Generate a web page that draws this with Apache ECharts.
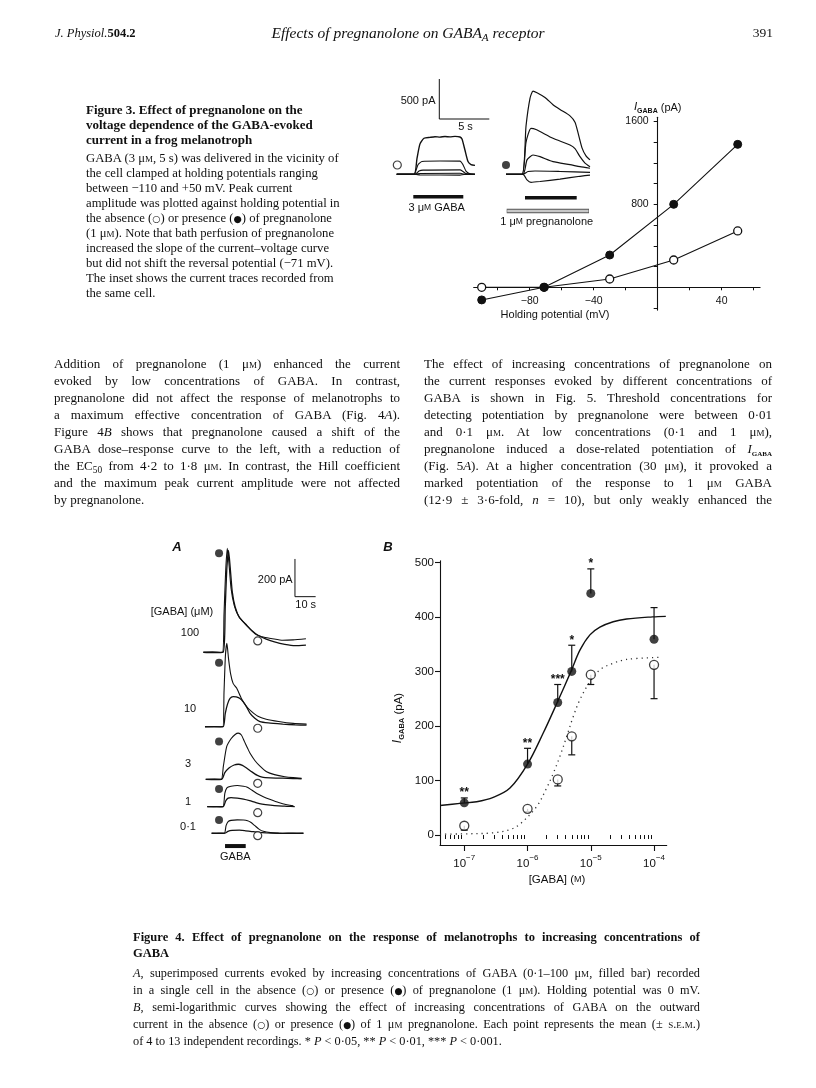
<!DOCTYPE html>
<html><head><meta charset="utf-8">
<script src="https://cdn.jsdelivr.net/npm/echarts@6/dist/echarts.min.js"></script>
<style>
html,body{margin:0;padding:0;background:#fff;}
#page{position:relative;width:816px;height:1088px;overflow:hidden;background:#fff;}
#chart{position:absolute;left:0;top:0;width:816px;height:1088px;}
.ln{position:absolute;white-space:nowrap;font-family:'Liberation Serif','Times New Roman',serif;color:#101010;}
.sc{font-variant:small-caps;}
.b{font-weight:bold;}
sub{font-size:0.72em;vertical-align:-0.28em;line-height:0;}
.sym{font-family:'DejaVu Sans',sans-serif;font-size:0.75em;}
</style></head>
<body><div id="page"><div id="chart"></div></div>
<script>
// ================= DATA =================
// Figure 3: current-voltage relation
var ivPotential = [-110, -71, -30, 10, 50];          // mV
var ivControl = [0, 0, 80, 263, 543];                // pA, open circles
var ivPregnanolone = [-122, 0, 311, 800, 1378];      // pA, filled circles
var ivXTicks = [-100, -80, -60, -40, -20, 20, 40, 60];
var ivXLabels = [-80, -40, 40];
var ivYTicks = [-200, 0, 200, 400, 600, 800, 1000, 1200, 1400, 1600];
var ivYLabels = [800, 1600];

// Figure 3 inset: current traces (time s, pA above baseline)
var insetControlTraces = [
  [[0.67,0],[2.4,0],[2.7,200],[3.0,380],[3.4,450],[4,462],[4.5,470],[5,465],[5.5,472],[6,468],[6.5,474],[7.0,466],[7.2,440],[7.5,300],[7.8,160],[8.1,122],[8.5,112]],
  [[0.67,0],[2.4,0],[2.8,120],[3.2,160],[5,166],[7.0,165],[7.3,120],[7.6,40],[8.0,5],[8.5,0]],
  [[0.67,0],[2.5,0],[2.9,40],[3.3,52],[7.0,55],[7.3,35],[7.6,8],[8.5,0]],
  [[0.67,0],[2.5,0],[3,10],[7,12],[7.4,2],[8.5,0]],
  [[0.67,0],[2.5,0],[3,-8],[7,-10],[7.4,-2],[8.5,0]]
];
var insetPregTraces = [
  [[11.6,0],[13.2,0],[13.6,600],[14.0,950],[14.3,1040],[14.7,1020],[15.5,960],[16.3,870],[17.0,810],[18.0,730],[18.5,650],[18.8,520],[19.2,330],[19.6,230],[20,180]],
  [[11.6,0],[13.2,0],[13.6,400],[14.1,575],[14.6,560],[16.3,450],[18,366],[18.5,320],[19.0,220],[19.5,140],[20,95]],
  [[11.6,0],[13.3,0],[13.7,180],[14.3,241],[15,220],[16.3,158],[18,120],[19,95],[20,75]],
  [[11.6,0],[13.3,0],[13.8,35],[14.5,41],[17,35],[20,25]],
  [[11.6,0],[13.3,0],[13.7,-70],[14.1,-100],[15,-90],[17,-60],[19,-25],[20,-10]]
];

// Figure 4A: superimposed currents (time s, pA above baseline)
var concLabels4A = ['100', '10', '3', '1', '0·1'];
var traces4APreg = [
  [[1.6,0],[6,2],[10.8,0],[11.6,200],[12.4,430],[13.2,552],[14.0,470],[15.0,340],[16.5,250],[18.5,195],[21,160],[24,125],[27,95],[31,80],[35,72],[40,64],[45,66],[51.2,72]],
  [[2.4,0],[7,1],[11.0,0],[11.6,180],[12.3,380],[13.0,442],[13.8,360],[14.8,280],[16,230],[17.7,205],[20,150],[22.6,106],[25,80],[28,55],[32,40],[38,28],[45,18],[51.5,14]],
  [[2.75,0],[7,1],[10.3,0],[11.3,70],[12.9,173],[15,215],[17,238],[18.5,245],[20,235],[21.5,200],[23,165],[24.2,138],[26.5,100],[29,70],[32.2,40],[36,25],[41,14],[45,9],[49.1,6]],
  [[3.5,0],[8,1],[11.1,0],[12.0,70],[13.0,100],[15,108],[18,112],[21,108],[22.6,104],[25,88],[27.5,70],[30.6,53],[34,38],[38,22],[42,10],[45.1,4]],
  [[5.6,0],[9,1],[11.8,0],[12.6,40],[13.6,62],[15,68],[18,71],[21,70],[23,66],[24.5,58],[26.5,40],[28.5,22],[30.6,10],[34,3],[40,0],[45,1],[50,0]]
];
var traces4AControl = [
  [[1.6,0],[6,-2],[11.2,0],[12.2,240],[13.0,450],[13.8,540],[14.6,450],[15.6,320],[17,240],[19,185],[22,150],[25,115],[28,90],[32,70],[36,55],[41,42],[46,35],[51.2,38]],
  [[2.4,0],[7,-1],[11.2,0],[12.2,70],[13.3,120],[14.5,150],[16,160],[17.5,158],[19.3,150],[21,130],[22.5,105],[24.2,71],[26.5,45],[29,27],[33,20],[40,14],[46,10],[51.5,8]],
  [[2.75,0],[7,-1],[10.5,0],[12,35],[14,60],[16.5,76],[18.5,80],[20.5,74],[22.5,60],[25,40],[27.5,22],[30,12],[34,8],[40,6],[45,4],[49.1,3]],
  [[3.5,0],[8,-1],[11.3,0],[12.4,30],[13.6,45],[15,48],[18,45],[21,40],[24,32],[27,22],[30,14],[34,8],[38,4],[42,2],[45.8,0]],
  [[5.6,0],[9,-1],[12,0],[13.5,10],[15.5,15],[19,16],[22,13],[25,9],[28,5],[32,2],[38,0],[44,-1],[50,0]]
];

// Figure 4B: dose-response
var gabaConc = [1e-7, 1e-6, 3e-6, 5e-6, 1e-5, 1e-4];      // M
var meanPreg = [59, 130, 243, 300, 443, 359];             // pA
var semPreg = [9, 29, 33, 48, 45, 58];
var meanControl = [17, 48, 102, 181, 294, 312];
var semControl = [8, 5, 12, 34, 18, 62];
var sigStars = ['**', '**', '***', '*', '*', ''];
var fitPregLogConc = [-7.384,-7.068,-6.804,-6.542,-6.278,-6.0,-5.752,-5.531,-5.31,-5.172,-5.014,-4.856,-4.646,-4.434,-4.024,-3.814];
var fitPregValue   = [54, 58, 61, 69, 86, 130, 187, 243, 301, 339, 367, 381, 391, 396, 400, 401];
var fitControlLogConc = [-7.384,-7.068,-6.542,-6.278,-6.12,-5.857,-5.699,-5.594,-5.489,-5.383,-5.278,-5.173,-5.014,-4.856,-4.646,-4.435,-3.88];
var fitControlValue   = [1.5, 2, 4, 10, 20, 52, 86, 113, 144, 180, 217, 248, 281, 303, 315, 322, 326];
var yTicks4B = [0, 100, 200, 300, 400, 500];
var xDecades4B = [-7, -6, -5, -4];

// ================= LAYOUT (not data) =================
var insetBaseline = 634;
var base4A = [1102, 707, 428, 283, 142];
var mark4APregOffset = [525, 339, 200, 94, 70];
var mark4ACtrlOffset = [60, -8, -21, -32, -13];
var SANS = "'Liberation Sans', Arial, sans-serif";
var INK = '#111111';

// ================= TEXT =================
var page = document.getElementById('page');
function addLine(html, x, yc, w, size, lh, justify, extra) {
  var d = document.createElement('div');
  d.className = 'ln';
  d.innerHTML = html;
  d.style.left = x + 'px';
  d.style.top = (yc - lh / 2) + 'px';
  d.style.fontSize = size + 'px';
  d.style.lineHeight = lh + 'px';
  if (extra) d.style.cssText += extra;
  page.appendChild(d);
  if (justify) {
    var nat = d.getBoundingClientRect().width;
    var n = (d.textContent.match(/ /g) || []).length;
    if (n) d.style.wordSpacing = ((w - nat) / n) + 'px';
  }
  return d;
}
var uM = 'μ<span class="sc">m</span>';
var OPEN = '(<span class="sym">○</span>)';
var FILL = '(<span class="sym">●</span>)';

// header
addLine('<i>J. Physiol.</i><b>504.2</b>', 55, 33, 0, 12.5, 16, false);
var t = addLine('<i>Effects of pregnanolone on GABA<sub>A</sub> receptor</i>', 0, 33, 0, 15.5, 18, false);
t.style.left = (408 - t.getBoundingClientRect().width / 2) + 'px';
var pn = addLine('391', 0, 33, 0, 13.5, 16, false);
pn.style.left = (773 - pn.getBoundingClientRect().width) + 'px';

// Figure 3 legend
var f3t = ['Figure 3. Effect of pregnanolone on the', 'voltage dependence of the GABA-evoked', 'current in a frog melanotroph'];
f3t.forEach(function (s, i) { addLine(s, 86, 109.3 + 15 * i, 0, 13, 15, false, 'font-weight:bold;'); });
var f3b = [
  'GABA (3 ' + uM + ', 5 s) was delivered in the vicinity of',
  'the cell clamped at holding potentials ranging',
  'between −110 and +50 mV. Peak current',
  'amplitude was plotted against holding potential in',
  'the absence ' + OPEN + ' or presence ' + FILL + ' of pregnanolone',
  '(1 ' + uM + '). Note that bath perfusion of pregnanolone',
  'increased the slope of the current–voltage curve',
  'but did not shift the reversal potential (−71 mV).',
  'The inset shows the current traces recorded from',
  'the same cell.'
];
f3b.forEach(function (s, i) { addLine(s, 86, 158.3 + 15 * i, 0, 12.7, 15, false); });

// body text, two columns
var colL = [
  'Addition of pregnanolone (1 ' + uM + ') enhanced the current',
  'evoked by low concentrations of GABA. In contrast,',
  'pregnanolone did not affect the response of melanotrophs to',
  'a maximum effective concentration of GABA (Fig. 4<i>A</i>).',
  'Figure 4<i>B</i> shows that pregnanolone caused a shift of the',
  'GABA dose–response curve to the left, with a reduction of',
  'the EC<sub>50</sub> from 4·2 to 1·8 ' + uM + '. In contrast, the Hill coefficient',
  'and the maximum peak current amplitude were not affected',
  'by pregnanolone.'
];
colL.forEach(function (s, i) { addLine(s, 54, 363.3 + 17.08 * i, 346, 13, 17, i < colL.length - 1); });
var colR = [
  'The effect of increasing concentrations of pregnanolone on',
  'the current responses evoked by different concentrations of',
  'GABA is shown in Fig. 5. Threshold concentrations for',
  'detecting potentiation by pregnanolone were between 0·01',
  'and 0·1 ' + uM + '. At low concentrations (0·1 and 1 ' + uM + '),',
  'pregnanolone induced a dose-related potentiation of <i>I</i><sub class="sc b">gaba</sub>',
  '(Fig. 5<i>A</i>). At a higher concentration (30 ' + uM + '), it provoked a',
  'marked potentiation of the response to 1 ' + uM + ' GABA',
  '(12·9 ± 3·6-fold, <i>n</i> = 10), but only weakly enhanced the'
];
colR.forEach(function (s, i) { addLine(s, 424, 363.3 + 17.08 * i, 348, 13, 17, true); });

// Figure 4 legend
addLine('Figure 4. Effect of pregnanolone on the response of melanotrophs to increasing concentrations of', 133, 937, 567, 12.5, 16, true, 'font-weight:bold;');
addLine('GABA', 133, 953, 0, 12.5, 16, false, 'font-weight:bold;');
var f4b = [
  '<i>A</i>, superimposed currents evoked by increasing concentrations of GABA (0·1–100 ' + uM + ', filled bar) recorded',
  'in a single cell in the absence ' + OPEN + ' or presence ' + FILL + ' of pregnanolone (1 ' + uM + '). Holding potential was 0 mV.',
  '<i>B</i>, semi-logarithmic curves showing the effect of increasing concentrations of GABA on the outward',
  'current in the absence ' + OPEN + ' or presence ' + FILL + ' of 1 ' + uM + ' pregnanolone. Each point represents the mean (± <span class="sc">s.e.m.</span>)',
  'of 4 to 13 independent recordings. * <i>P</i> &lt; 0·05, ** <i>P</i> &lt; 0·01, *** <i>P</i> &lt; 0·001.'
];
var f4y = [973, 990, 1007, 1024, 1041];
f4b.forEach(function (s, i) { addLine(s, 133, f4y[i], 567, 12.3, 16, i < f4b.length - 1); });

// ================= CHART =================
function pairs(xs, ys) { return xs.map(function (x, i) { return [x, ys[i]]; }); }
function shift(tr, b) { return tr.map(function (p) { return [p[0], p[1] + b]; }); }
var minorTicks4B = [];
for (var d = -8; d <= -4; d++) for (var k = 2; k <= 9; k++) {
  var v = d + Math.log10(k);
  if (v > -7.384 && v < -3.8) minorTicks4B.push(v);
}
var series = [];
// ---- Figure 3 IV plot (grid 0)
series.push({ type: 'line', xAxisIndex: 0, yAxisIndex: 0, data: pairs(ivPotential, ivControl), symbol: 'circle', symbolSize: 8,
  itemStyle: { color: '#fff', borderColor: INK, borderWidth: 1.3 }, lineStyle: { color: INK, width: 1.1 }, z: 4 });
series.push({ type: 'line', xAxisIndex: 0, yAxisIndex: 0, data: pairs(ivPotential, ivPregnanolone), symbol: 'circle', symbolSize: 8,
  itemStyle: { color: INK, borderColor: INK, borderWidth: 1 }, lineStyle: { color: INK, width: 1.1 }, z: 5 });
// ---- Figure 3 insets (grid 1)
function traceSeries(xi, data, w) {
  return { type: 'line', xAxisIndex: xi, yAxisIndex: xi, data: data, showSymbol: false, symbol: 'none', smooth: 0.2,
    lineStyle: { color: INK, width: w }, silent: true, z: 3 };
}
insetControlTraces.forEach(function (tr, i) { series.push(traceSeries(1, shift(tr, insetBaseline), i === 0 ? 1.4 : 1.1)); });
insetPregTraces.forEach(function (tr, i) { series.push(traceSeries(1, shift(tr, insetBaseline), 1.2)); });
series.push({ type: 'line', xAxisIndex: 1, yAxisIndex: 1, data: [[4.93, 1825], [4.93, 1325], [9.93, 1325]], symbol: 'none', lineStyle: { color: INK, width: 1 } });
series.push({ type: 'line', xAxisIndex: 1, yAxisIndex: 1, data: [[2.33, 354], [7.33, 354]], symbol: 'none', lineStyle: { color: INK, width: 3.5, cap: 'butt' } });
series.push({ type: 'line', xAxisIndex: 1, yAxisIndex: 1, data: [[13.5, 341], [18.67, 341]], symbol: 'none', lineStyle: { color: INK, width: 3.5, cap: 'butt' } });
series.push({ type: 'line', xAxisIndex: 1, yAxisIndex: 1, data: [[11.67, 175], [19.9, 175]], symbol: 'none', lineStyle: { color: '#555', width: 4.5, cap: 'butt' } });
series.push({ type: 'line', xAxisIndex: 1, yAxisIndex: 1, data: [[11.72, 175], [19.85, 175]], symbol: 'none', lineStyle: { color: '#c8c8c8', width: 2.5, cap: 'butt' }, z: 3 });
series.push({ type: 'scatter', xAxisIndex: 1, yAxisIndex: 1, data: [[0.73, insetBaseline + 116]], symbolSize: 8, itemStyle: { color: '#fff', borderColor: INK, borderWidth: 1.2 } });
series.push({ type: 'scatter', xAxisIndex: 1, yAxisIndex: 1, data: [[11.6, insetBaseline + 116]], symbolSize: 8, itemStyle: { color: INK } });
// ---- Figure 4A (grid 2)
traces4AControl.forEach(function (tr, i) { series.push(traceSeries(2, shift(tr, base4A[i]), 1.3)); });
traces4APreg.forEach(function (tr, i) { series.push(traceSeries(2, shift(tr, base4A[i]), 1.1)); });
series.push({ type: 'line', xAxisIndex: 2, yAxisIndex: 2, data: [[45.9, 1597], [45.9, 1397], [55.9, 1397]], symbol: 'none', lineStyle: { color: INK, width: 1 } });
series.push({ type: 'line', xAxisIndex: 2, yAxisIndex: 2, data: [[12.1, 74], [22.1, 74]], symbol: 'none', lineStyle: { color: INK, width: 4, cap: 'butt' } });
series.push({ type: 'scatter', xAxisIndex: 2, yAxisIndex: 2, data: base4A.map(function (b, i) { return [9.2, b + mark4APregOffset[i]]; }), symbolSize: 8, itemStyle: { color: INK } });
series.push({ type: 'scatter', xAxisIndex: 2, yAxisIndex: 2, data: base4A.map(function (b, i) { return [27.9, b + mark4ACtrlOffset[i]]; }), symbolSize: 8, itemStyle: { color: '#fff', borderColor: INK, borderWidth: 1.2 }, z: 5 });
// ---- Figure 4B (grid 3)
var logConc = gabaConc.map(function (c) { return Math.log10(c); });
series.push({ type: 'line', xAxisIndex: 3, yAxisIndex: 3, data: pairs(fitPregLogConc, fitPregValue), showSymbol: false, symbol: 'none', smooth: 0.35,
  lineStyle: { color: INK, width: 1.4 }, z: 2 });
series.push({ type: 'line', xAxisIndex: 3, yAxisIndex: 3, data: pairs(fitControlLogConc, fitControlValue), showSymbol: false, symbol: 'none', smooth: 0.35,
  lineStyle: { color: '#333', width: 1.3, type: [1.2, 4] }, z: 2 });
function errBar(params, api) {
  var p0 = api.coord([api.value(0), api.value(1)]);
  var p1 = api.coord([api.value(0), api.value(2)]);
  return { type: 'group', children: [
    { type: 'line', shape: { x1: p0[0], y1: p0[1], x2: p1[0], y2: p1[1] }, style: { stroke: INK, lineWidth: 1.2 } },
    { type: 'line', shape: { x1: p1[0] - 3.5, y1: p1[1], x2: p1[0] + 3.5, y2: p1[1] }, style: { stroke: INK, lineWidth: 1.2 } }
  ] };
}
series.push({ type: 'custom', xAxisIndex: 3, yAxisIndex: 3, renderItem: errBar, encode: { x: 0, y: 1 }, z: 3,
  data: logConc.map(function (x, i) { return [x, meanPreg[i], meanPreg[i] + semPreg[i]]; }) });
series.push({ type: 'custom', xAxisIndex: 3, yAxisIndex: 3, renderItem: errBar, encode: { x: 0, y: 1 }, z: 3,
  data: logConc.map(function (x, i) { return [x, meanControl[i], meanControl[i] - semControl[i]]; }) });
series.push({ type: 'custom', xAxisIndex: 3, yAxisIndex: 3, encode: { x: 0, y: 1 }, z: 6,
  data: logConc.map(function (x, i) { return [x, meanPreg[i] + semPreg[i]]; }),
  renderItem: function (params, api) {
    var p = api.coord([api.value(0), api.value(1)]);
    return { type: 'text', x: p[0], y: p[1] + 1, style: { text: sigStars[params.dataIndex], align: 'center', verticalAlign: 'bottom', font: 'bold 12px ' + SANS, fill: INK } };
  } });
series.push({ type: 'scatter', xAxisIndex: 3, yAxisIndex: 3, data: pairs(logConc, meanControl), symbolSize: 9,
  itemStyle: { color: '#fff', borderColor: INK, borderWidth: 1.3 }, z: 5 });
series.push({ type: 'scatter', xAxisIndex: 3, yAxisIndex: 3, data: pairs(logConc, meanPreg), symbolSize: 9,
  itemStyle: { color: INK }, z: 5 });

var axLine = { lineStyle: { color: INK, width: 1.1 } };
var hidden = { show: false };
var graphics = [
  // Figure 3 labels
  { type: 'text', x: 435.5, y: 101, style: { text: '500 pA', font: '11px ' + SANS, fill: INK, align: 'right', verticalAlign: 'middle' } },
  { type: 'text', x: 465.5, y: 126.7, style: { text: '5 s', font: '11px ' + SANS, fill: INK, align: 'center', verticalAlign: 'middle' } },
  { type: 'text', x: 436.7, y: 208, style: { text: '{n|3 μ}{s|M}{n| GABA}', align: 'center', verticalAlign: 'middle',
    rich: { n: { fontSize: 11, fontFamily: SANS, fill: INK }, s: { fontSize: 8.5, fontFamily: SANS, fill: INK } } } },
  { type: 'text', x: 546.7, y: 222, style: { text: '{n|1 μ}{s|M}{n| pregnanolone}', align: 'center', verticalAlign: 'middle',
    rich: { n: { fontSize: 11, fontFamily: SANS, fill: INK }, s: { fontSize: 8.5, fontFamily: SANS, fill: INK } } } },
  { type: 'text', x: 657.7, y: 108, style: { text: '{i|I}{s|GABA}{n| (pA)}', align: 'center', verticalAlign: 'middle',
    rich: { i: { fontSize: 11.5, fontStyle: 'italic', fontFamily: SANS, fill: INK, lineHeight: 14, verticalAlign: 'top' },
            s: { fontSize: 7, fontFamily: SANS, fontWeight: 'bold', fill: INK, lineHeight: 9, verticalAlign: 'bottom' },
            n: { fontSize: 11, fontFamily: SANS, fill: INK, lineHeight: 14 } } } },
  { type: 'text', x: 555, y: 315, style: { text: 'Holding potential (mV)', font: '11px ' + SANS, fill: INK, align: 'center', verticalAlign: 'middle' } },
  // Figure 4A labels
  { type: 'text', x: 177, y: 547, style: { text: 'A', font: 'italic bold 13px ' + SANS, fill: INK, align: 'center', verticalAlign: 'middle' } },
  { type: 'text', x: 292.7, y: 580, style: { text: '200 pA', font: '11px ' + SANS, fill: INK, align: 'right', verticalAlign: 'middle' } },
  { type: 'text', x: 305.7, y: 605.3, style: { text: '10 s', font: '11px ' + SANS, fill: INK, align: 'center', verticalAlign: 'middle' } },
  { type: 'text', x: 182, y: 611.7, style: { text: '[GABA] (μM)', font: '11px ' + SANS, fill: INK, align: 'center', verticalAlign: 'middle' } },
  { type: 'text', x: 190, y: 632.7, style: { text: concLabels4A[0], font: '11px ' + SANS, fill: INK, align: 'center', verticalAlign: 'middle' } },
  { type: 'text', x: 190, y: 709, style: { text: concLabels4A[1], font: '11px ' + SANS, fill: INK, align: 'center', verticalAlign: 'middle' } },
  { type: 'text', x: 188, y: 764, style: { text: concLabels4A[2], font: '11px ' + SANS, fill: INK, align: 'center', verticalAlign: 'middle' } },
  { type: 'text', x: 188, y: 801.7, style: { text: concLabels4A[3], font: '11px ' + SANS, fill: INK, align: 'center', verticalAlign: 'middle' } },
  { type: 'text', x: 188, y: 826.7, style: { text: concLabels4A[4], font: '11px ' + SANS, fill: INK, align: 'center', verticalAlign: 'middle' } },
  { type: 'text', x: 235.3, y: 857.3, style: { text: 'GABA', font: '11px ' + SANS, fill: INK, align: 'center', verticalAlign: 'middle' } },
  // Figure 4B labels
  { type: 'text', x: 388, y: 547, style: { text: 'B', font: 'italic bold 13px ' + SANS, fill: INK, align: 'center', verticalAlign: 'middle' } },
  { type: 'text', x: 399, y: 718, rotation: Math.PI / 2, style: { text: '{i|I}{s|GABA}{n| (pA)}', align: 'center', verticalAlign: 'middle',
    rich: { i: { fontSize: 12, fontStyle: 'italic', fontFamily: SANS, fill: INK, lineHeight: 14, verticalAlign: 'top' },
            s: { fontSize: 7.5, fontFamily: SANS, fontWeight: 'bold', fill: INK, lineHeight: 9, verticalAlign: 'bottom' },
            n: { fontSize: 11.5, fontFamily: SANS, fill: INK, lineHeight: 14 } } } },
  { type: 'text', x: 557, y: 880, style: { text: '{n|[GABA] (}{s|M}{n|)}', align: 'center', verticalAlign: 'middle',
    rich: { n: { fontSize: 11.5, fontFamily: SANS, fill: INK }, s: { fontSize: 9, fontFamily: SANS, fill: INK } } } }
];
var option = {
  animation: false,
  backgroundColor: 'transparent',
  grid: [
    { left: 473.7, top: 117.2, width: 286.4, height: 192.9 },
    { left: 390, top: 75, width: 210, height: 150 },
    { left: 200, top: 540, width: 120, height: 320 },
    { left: 440, top: 560.7, width: 226.7, height: 284.3 }
  ],
  xAxis: [
    { gridIndex: 0, type: 'value', min: -115, max: 64, axisLine: { onZero: true, lineStyle: axLine.lineStyle }, splitLine: hidden,
      axisTick: { customValues: ivXTicks, length: 3, lineStyle: { color: INK } },
      axisLabel: { show: false } },
    { gridIndex: 1, type: 'value', min: 0, max: 21, show: false },
    { gridIndex: 2, type: 'value', min: 0, max: 58, show: false },
    { gridIndex: 3, type: 'value', min: -7.384, max: -3.8, position: 'bottom', axisLine: { onZero: false, lineStyle: axLine.lineStyle }, splitLine: hidden,
      axisTick: { customValues: xDecades4B, length: 6, lineStyle: { color: INK, width: 1.1 } },
      axisLabel: { customValues: xDecades4B, margin: 9, color: INK, fontFamily: SANS,
        formatter: function (v) { return '{b|10}{e|−' + (-v) + '}'; },
        rich: { b: { fontSize: 11.5, fontFamily: SANS, color: INK, lineHeight: 16, verticalAlign: 'bottom' },
                e: { fontSize: 8, fontFamily: SANS, color: INK, lineHeight: 9, verticalAlign: 'top' } } } },
    { gridIndex: 3, type: 'value', min: -7.384, max: -3.8, position: 'bottom', axisLine: { show: false }, splitLine: hidden,
      axisTick: { customValues: minorTicks4B, length: 4, lineStyle: { color: INK, width: 1 } },
      axisLabel: { show: false } }
  ],
  yAxis: [
    { gridIndex: 0, type: 'value', min: -220, max: 1640, axisLine: { show: true, onZero: true, lineStyle: axLine.lineStyle }, splitLine: hidden,
      axisTick: { show: true, customValues: ivYTicks, length: 4, lineStyle: { color: INK } },
      axisLabel: { show: false } },
    { gridIndex: 1, type: 'value', min: 0, max: 1875, show: false },
    { gridIndex: 2, type: 'value', min: 0, max: 1697.6, show: false },
    { gridIndex: 3, type: 'value', min: -18.3, max: 503, axisLine: { show: true, onZero: false, lineStyle: axLine.lineStyle }, splitLine: hidden,
      axisTick: { show: true, customValues: yTicks4B, length: 5, lineStyle: { color: INK, width: 1.1 } },
      axisLabel: { customValues: yTicks4B, margin: 6, color: INK, fontSize: 11.5, fontFamily: SANS } }
  ],
  series: series,
  graphic: graphics
};
var chart = echarts.init(document.getElementById('chart'), null, { renderer: 'canvas' });
chart.setOption(option);
// IV tick labels placed at the axes that sit on zero, using the chart's own scales
var ivFinder = { xAxisIndex: 0, yAxisIndex: 0 };
ivXLabels.forEach(function (v) {
  var p = chart.convertToPixel(ivFinder, [v, 0]);
  graphics.push({ type: 'text', x: p[0], y: p[1] + 13.5, style: { text: v < 0 ? '−' + (-v) : String(v), font: '10.5px ' + SANS, fill: INK, align: 'center', verticalAlign: 'middle' } });
});
ivYLabels.forEach(function (v) {
  var p = chart.convertToPixel(ivFinder, [0, v]);
  graphics.push({ type: 'text', x: p[0] - 9, y: p[1], style: { text: String(v), font: '10.5px ' + SANS, fill: INK, align: 'right', verticalAlign: 'middle' } });
});
chart.setOption({ graphic: graphics });
</script>
</body></html>
